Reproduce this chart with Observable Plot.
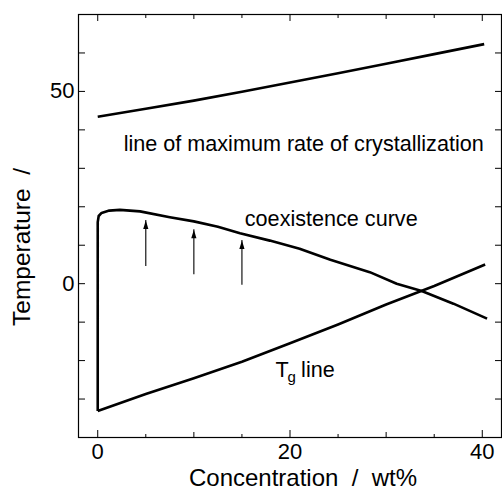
<!DOCTYPE html>
<html>
<head>
<meta charset="utf-8">
<script src="https://cdn.jsdelivr.net/npm/d3@7"></script>
<script src="https://cdn.jsdelivr.net/npm/@observablehq/plot@0.6"></script>
<style>
  html, body { margin: 0; padding: 0; background: #fff; }
  svg { display: block; }
  svg text { white-space: pre; }
</style>
</head>
<body>
<div id="chart"></div>
<script>
// ---- data ----
// line of maximum rate of crystallization
const crystX = [0, 5, 10, 15, 20, 25, 30, 35, 40.2];
const crystT = [43.4, 45.5, 47.6, 49.9, 52.3, 54.7, 57.2, 59.7, 62.3];
// coexistence curve (starts with the vertical at 0 wt%)
const coexX = [0, 0, 0.1, 0.4, 1.2, 2.3, 4.4, 7.5, 10, 12.5, 14.8, 17.9, 21, 24.2, 28.3, 31.1, 33.7, 37, 40.5];
const coexT = [-33.1, 16.0, 17.6, 18.4, 19.0, 19.2, 18.8, 17.3, 16.2, 14.8, 13.1, 11.2, 9.1, 6.2, 3.0, 0.0, -1.9, -5.2, -9.1];
// Tg line
const tgX = [0, 5, 10, 15, 20, 25, 30, 35, 40.3];
const tgT = [-33.1, -28.7, -24.6, -20.3, -15.5, -10.6, -5.4, -0.6, 5.0];
// arrows (concentration, start temperature, end temperature)
const arrowX = [5, 10, 15];
const arrowFrom = [4.5, 2.3, -0.4];
const arrowTo = [16.4, 14.0, 11.2];
// annotations
const labelText = ["line of maximum rate of crystallization", "coexistence curve"];
const labelX = [2.7, 15.3];
const labelT = [34.6, 14.9];
const tgLabelX = [18.5];
const tgLabelT = [-24.2];
// ticks
const xTickLabels = [0, 20, 40];
const xTicksMid = [10, 30];
const xTicksMinor = [5, 15, 25, 35];
const yTickLabels = [0, 50];
const yTicks = [-30, -20, -10, 0, 10, 20, 30, 40, 50, 60];
const xTitle = "Concentration  /  wt%";
const yTitle = "Temperature  /";

// ---- build ----
const W = 502, H = 489, mL = 78, mR = 1, mT = 14, mB = 52;
const iW = W - mL - mR, iH = H - mT - mB;
const font = "'Liberation Sans', Arial, Helvetica, sans-serif";
const lineStyle = {stroke: "black", strokeWidth: 2.6, strokeLinejoin: "round", strokeLinecap: "butt"};
const toPts = (xs, ys) => xs.map((x, i) => ({x, y: ys[i]}));
const arrows = arrowX.map((x, i) => ({x, from: arrowFrom[i], to: arrowTo[i]}));
const labels = labelText.map((text, i) => ({text, x: labelX[i], y: labelT[i]}));
const tgLabel = tgLabelX.map((x, i) => ({x, y: tgLabelT[i]}));
const arrowHead = {draw(ctx) { ctx.moveTo(0, 0); ctx.lineTo(2.6, 8.5); ctx.lineTo(-2.6, 8.5); ctx.closePath(); }};

const chart = Plot.plot({
  width: W, height: H,
  marginLeft: mL, marginRight: mR, marginTop: mT, marginBottom: mB,
  style: {fontFamily: font, fontSize: "21px", background: "white", color: "black"},
  x: {domain: [-2, 42], label: null},
  y: {domain: [-40, 70], label: null},
  marks: [
    Plot.frame({stroke: "black", strokeWidth: 1.2}),
    // inward ticks, bottom & top
    Plot.tickX(xTickLabels, {x: d => d, insetTop: iH - 7, strokeWidth: 1}),
    Plot.tickX(xTicksMid, {x: d => d, insetTop: iH - 5, strokeWidth: 1}),
    Plot.tickX(xTicksMinor, {x: d => d, insetTop: iH - 3, strokeWidth: 1}),
    Plot.tickX(xTickLabels, {x: d => d, insetBottom: iH - 7, strokeWidth: 1}),
    Plot.tickX(xTicksMid, {x: d => d, insetBottom: iH - 5, strokeWidth: 1}),
    Plot.tickX(xTicksMinor, {x: d => d, insetBottom: iH - 4, strokeWidth: 1}),
    // inward ticks, left & right
    Plot.tickY(yTicks, {y: d => d, insetRight: iW - 7, strokeWidth: 1}),
    Plot.tickY(yTicks, {y: d => d, insetLeft: iW - 6, strokeWidth: 1}),
    Plot.axisX({ticks: xTickLabels, tickSize: 0, tickPadding: 6, fontSize: 22, label: null}),
    Plot.axisY({ticks: yTickLabels, tickSize: 0, tickPadding: 4, fontSize: 22, label: null}),
    // curves
    Plot.line(toPts(crystX, crystT), {x: "x", y: "y", ...lineStyle}),
    Plot.line(toPts(coexX, coexT), {x: "x", y: "y", ...lineStyle}),
    Plot.line(toPts(tgX, tgT), {x: "x", y: "y", ...lineStyle}),
    // arrows
    Plot.ruleX(arrows, {x: "x", y1: "from", y2: "to", stroke: "black", strokeWidth: 1.1}),
    Plot.dot(arrows, {x: "x", y: "to", symbol: arrowHead, r: 3, fill: "black", stroke: "none"}),
    // annotations
    Plot.text(labels, {x: "x", y: "y", text: "text", textAnchor: "start", lineAnchor: "bottom", fontSize: 21.6}),
    Plot.text(tgLabel, {x: "x", y: "y", text: () => "T", textAnchor: "start", lineAnchor: "bottom", fontSize: 21.6}),
    Plot.text(tgLabel, {x: "x", y: "y", text: () => "g", textAnchor: "start", lineAnchor: "bottom", fontSize: 15, dx: 12, dy: 5}),
    Plot.text(tgLabel, {x: "x", y: "y", text: () => "line", textAnchor: "start", lineAnchor: "bottom", fontSize: 21.6, dx: 25.5}),
    // axis titles
    Plot.text([xTitle], {frameAnchor: "bottom", text: d => d, dx: 13, dy: 48, textAnchor: "middle", lineAnchor: "bottom", fontSize: 24}),
    Plot.text([yTitle], {frameAnchor: "left", text: d => d, dx: -56.7, dy: 100, rotate: -90, textAnchor: "start", lineAnchor: "middle", fontSize: 24.5})
  ]
});
document.getElementById("chart").appendChild(chart);
</script>
</body>
</html>
